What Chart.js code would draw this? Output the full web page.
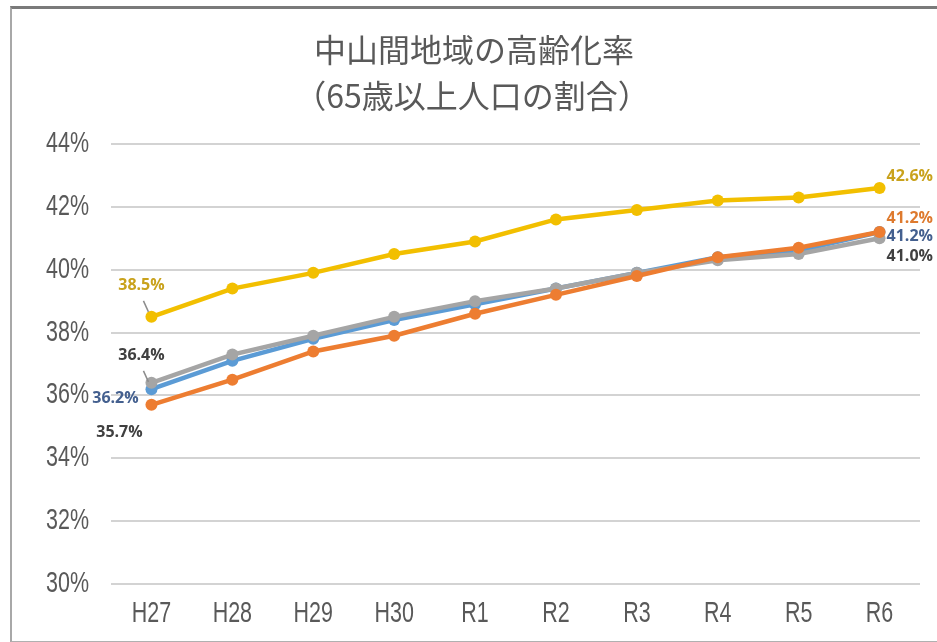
<!DOCTYPE html>
<html>
<head>
<meta charset="utf-8">
<script src="https://cdn.jsdelivr.net/npm/chart.js@4.4.1/dist/chart.umd.min.js"></script>
<style>
  html, body { margin: 0; padding: 0; background: #fff; }
  #wrap { position: relative; width: 937px; height: 642px; overflow: hidden; }
  #frame { position: absolute; left: 10px; top: 6px; width: 940px; height: 632px;
           border-top: 3px solid #7a7a7a; border-left: 2px solid #a8a8a8; border-bottom: 2px solid #b0b0b0;
           pointer-events: none; }
  canvas { position: absolute; left: 0; top: 0; }
</style>
</head>
<body>
<div id="wrap">
  <canvas id="c" width="937" height="642"></canvas>
  <div id="frame"></div>
</div>
<script>
const titleLines = ['中山間地域の高齢化率', '（65歳以上人口の割合）'];
const categories = ['H27', 'H28', 'H29', 'H30', 'R1', 'R2', 'R3', 'R4', 'R5', 'R6'];
const seriesYellow = [38.5, 39.4, 39.9, 40.5, 40.9, 41.6, 41.9, 42.2, 42.3, 42.6];
const seriesOrange = [35.7, 36.5, 37.4, 37.9, 38.6, 39.2, 39.8, 40.4, 40.7, 41.2];
const seriesGray   = [36.4, 37.3, 37.9, 38.5, 39.0, 39.4, 39.9, 40.3, 40.5, 41.0];
const seriesBlue   = [36.2, 37.1, 37.8, 38.4, 38.9, 39.4, 39.9, 40.4, 40.6, 41.2];
const yTicks = [30, 32, 34, 36, 38, 40, 42, 44];

const numFont = '"Liberation Sans", Arial, sans-serif';
const labelFont = '"Open Sans", "DejaVu Sans", sans-serif';

function ds(data, color) {
  return {
    data: data,
    borderColor: color,
    backgroundColor: color,
    borderWidth: 4.5,
    pointRadius: 6,
    pointHoverRadius: 6,
    pointBorderWidth: 0,
    pointBackgroundColor: color,
    tension: 0
  };
}

// dataset order: index 0 drawn on top
const datasets = [
  ds(seriesYellow, '#F2BF00'),
  ds(seriesOrange, '#ED7D31'),
  ds(seriesGray, '#A5A5A5'),
  ds(seriesBlue, '#5B9BD5')
];

// label placement: [datasetIndex, pointIndex, dx, dy, color, align, leader]
const labelSpecs = [
  [0, 0, -10, -31, '#C9A21C', 'center', true],
  [2, 0, -10, -27, '#404040', 'center', true],
  [3, 0, -36, 9, '#44608F', 'center', false],
  [1, 0, -32, 28, '#404040', 'center', false],
  [0, 9, 7, -12, '#C9A21C', 'left', false],
  [1, 9, 7, -14, '#DE7A2E', 'left', false],
  [3, 9, 7, 4, '#44608F', 'left', false],
  [2, 9, 7, 18, '#404040', 'left', false]
];

// condensed text helper (horizontal squeeze to mimic a narrow face)
function narrowText(ctx, text, x, y, align, sx) {
  ctx.save();
  ctx.translate(x, y);
  ctx.scale(sx, 1);
  ctx.textAlign = align;
  ctx.textBaseline = 'middle';
  ctx.fillText(text, 0, 0);
  ctx.restore();
}

const decorPlugin = {
  id: 'decor',
  afterDraw(chart) {
    const ctx = chart.ctx;
    ctx.save();
    // axis tick labels, positioned by the chart's own scales
    ctx.fillStyle = '#595959';
    ctx.font = '29px ' + numFont;
    const ys = chart.scales.y;
    ys.ticks.forEach(t => {
      narrowText(ctx, t.value + '%', ys.right - 22, ys.getPixelForValue(t.value), 'right', 0.74);
    });
    const xs = chart.scales.x;
    chart.data.labels.forEach((lab, i) => {
      narrowText(ctx, lab, xs.getPixelForTick(i), xs.top + 30, 'center', 0.74);
    });
    // title
    ctx.fillStyle = '#595959';
    ctx.font = '32px "Noto Sans CJK JP", "Noto Sans CJK SC", sans-serif';
    ctx.textAlign = 'center';
    ctx.textBaseline = 'middle';
    ctx.fillText(titleLines[0], 474, 50);
    ctx.fillText(titleLines[1], 472, 96);
    // data labels
    ctx.font = 'bold 16px ' + labelFont;
    labelSpecs.forEach(s => {
      const meta = chart.getDatasetMeta(s[0]);
      const pt = meta.data[s[1]];
      const val = chart.data.datasets[s[0]].data[s[1]];
      const x = pt.x + s[2], y = pt.y + s[3];
      if (s[6]) {
        ctx.strokeStyle = '#8c8c8c';
        ctx.lineWidth = 1.5;
        ctx.beginPath();
        ctx.moveTo(pt.x - 8, y + 15);
        ctx.lineTo(pt.x - 3, y + 26);
        ctx.stroke();
      }
      ctx.fillStyle = s[4];
      ctx.textAlign = s[5];
      ctx.textBaseline = 'middle';
      ctx.fillText(val.toFixed(1) + '%', x, y);
    });
    ctx.restore();
  }
};

new Chart(document.getElementById('c'), {
  type: 'line',
  data: { labels: categories, datasets: datasets },
  options: {
    responsive: false,
    animation: false,
    layout: { padding: { top: 144, right: 17, bottom: 0, left: 0 } },
    plugins: { legend: { display: false }, tooltip: { enabled: false }, title: { display: false } },
    scales: {
      x: {
        offset: true,
        grid: { display: false, drawTicks: false },
        border: { display: false },
        ticks: { display: false, autoSkip: false },
        afterFit(scale) { scale.height = 58; }
      },
      y: {
        min: 30, max: 44,
        afterBuildTicks(scale) { scale.ticks = yTicks.map(v => ({ value: v })); },
        grid: { color: '#D3D3D3', lineWidth: 2, drawTicks: false },
        border: { display: false },
        ticks: { display: false },
        afterFit(scale) { scale.width = 111; }
      }
    }
  },
  plugins: [decorPlugin]
});
</script>
</body>
</html>
